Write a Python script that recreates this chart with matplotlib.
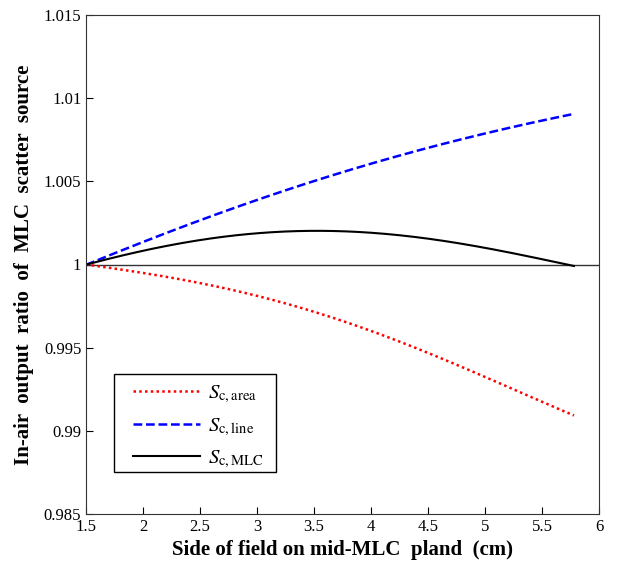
import numpy as np
import matplotlib
matplotlib.use("Agg")
import matplotlib.pyplot as plt
from matplotlib.patches import Rectangle

plt.rcParams['font.family'] = ['Liberation Serif', 'DejaVu Serif']
plt.rcParams['mathtext.fontset'] = 'stix'

side = [1.5, 2.0, 2.5, 3.0, 3.5, 4.0, 4.5, 5.0, 5.5, 5.78]
sc_area = [1.0, 0.9995, 0.99885, 0.99815, 0.99715, 0.9960, 0.9947, 0.9932, 0.9918, 0.9909]
sc_line = [1.0, 1.0013, 1.0027, 1.0039, 1.0050, 1.00605, 1.0070, 1.0079, 1.00865, 1.00905]
sc_mlc = [1.0, 1.0008, 1.0015, 1.00188, 1.0020, 1.0019, 1.0016, 1.00095, 1.00035, 0.9999]

labels = [r'$S_{\rm c,area}$', r'$S_{\rm c,line}$', r'$S_{\rm c,MLC}$']

xs = np.linspace(side[0], side[-1], 200)
def smooth(y):
    # smooth curve through the read points
    p = np.polyfit(side, y, 4)
    return np.polyval(p, xs)

fig = plt.figure(figsize=(6.24, 5.75), dpi=100)
ax = fig.add_axes([0.138, 0.106, 0.822, 0.868])

ax.axhline(1.0, color='#333333', lw=1.0)
ax.plot(xs, smooth(sc_area), color='red', ls=(0, (1, 1.3)), lw=1.8, label=labels[0])
ax.plot(xs, smooth(sc_line), color='blue', ls=(0, (3.5, 1.5)), lw=1.8, label=labels[1])
ax.plot(xs, smooth(sc_mlc), color='black', ls='-', lw=1.5, label=labels[2])

ax.set_xlim(1.5, 6)
ax.set_ylim(0.985, 1.015)
ax.set_xticks([1.5, 2, 2.5, 3, 3.5, 4, 4.5, 5, 5.5, 6])
ax.set_xticklabels(['1.5', '2', '2.5', '3', '3.5', '4', '4.5', '5', '5.5', '6'])
ax.set_yticks([0.985, 0.99, 0.995, 1.0, 1.005, 1.01, 1.015])
ax.set_yticklabels(['0.985', '0.99', '0.995', '1', '1.005', '1.01', '1.015'])
ax.tick_params(direction='in', length=5, labelsize=12, top=False, right=False)
for s in ax.spines.values():
    s.set_color('#333333')

ax.set_xlabel('Side of field on mid-MLC  pland  (cm)', fontsize=15, fontweight='bold', labelpad=4)
ax.set_ylabel('In-air  output  ratio  of  MLC  scatter  source', fontsize=15, fontweight='bold', labelpad=7)

# legend without frame, box drawn separately
leg = ax.legend(loc='upper left', bbox_to_anchor=(0.055, 0.298), fontsize=15, frameon=False,
                handlelength=3.2, handletextpad=0.4, labelspacing=0.52, borderpad=0.4)
ax.add_patch(Rectangle((0.0546, 0.084), 0.316, 0.197, transform=ax.transAxes,
                       fill=False, edgecolor='black', lw=1.0, zorder=5))

fig.savefig('out.png', dpi=100, facecolor='white')
